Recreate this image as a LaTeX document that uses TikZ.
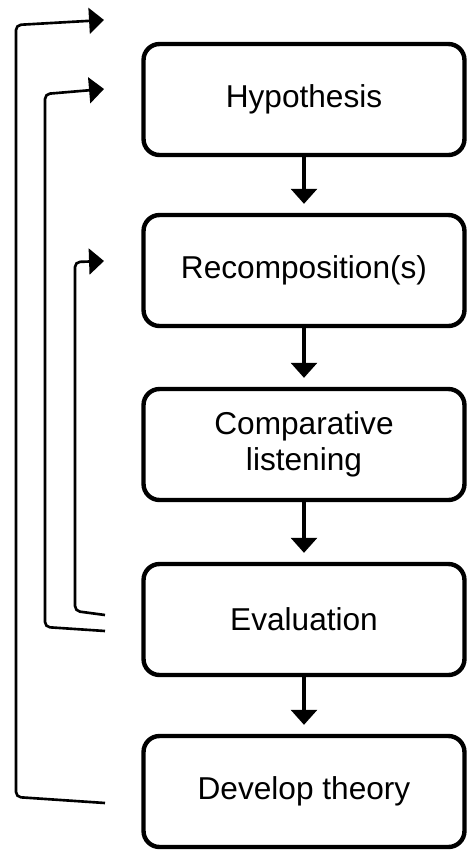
\documentclass[tikz,border=0pt]{standalone}
\usepackage{fontspec}
\setmainfont{Liberation Sans}
\usetikzlibrary{calc,arrows.meta,positioning}
\tikzset{
myStep/.style={
	rectangle,draw=black,line width=2.5pt,rounded corners=0.32cm,
	minimum width=6.42cm,minimum height=2.22cm,
	inner sep=0pt,align=center,text=black,
	font=\fontsize{18}{20.8}\selectfont
}
% link
, myNext/.style={-{Triangle[length=8.5pt,width=14.7pt]},line width=1.8pt,shorten >=0.18cm}
, myLoop/.style={-{Triangle[length=8.5pt,width=14.7pt]},line width=1.5pt,rounded corners=0.1cm}
}

\begin{document}
\begin{tikzpicture}[x=0.02cm,y=-0.02cm]
	\useasboundingbox (0,0) rectangle (468,850);
	% nodes
	\node[myStep] (Hypo)    at (304, 99.5) {Hypothesis};
	\node[myStep] (Recomp)  at (304,270.5) {Recomposition(s)};
	\node[myStep] (Compare) at (304,444.5) {Comparative\\listening};
	\node[myStep] (Eval)    at (304,619.5) {Evaluation};
	\node[myStep] (Develop) at (304,791.5) {Develop theory};
	% free ends of the loops
	\coordinate (DevOut)   at (105,803);
	\coordinate (EvalOutA) at (105,631);
	\coordinate (EvalOutB) at (105,615);
	\coordinate (TopIn)    at (104,20);
	\coordinate (HypoIn)   at (104,89);
	\coordinate (RecompIn) at (104,261);

	% links
	\draw [myNext] (Hypo.south) -- (Recomp.north);
	\draw [myNext] (Recomp.south) -- (Compare.north);
	\draw [myNext] (Compare.south) -- (Eval.north);
	\draw [myNext] (Eval.south) -- (Develop.north);

	% loops back
	\draw [myLoop] (DevOut) -- (16,797) -- (16,25) -- (TopIn);
	\draw [myLoop] (EvalOutA) -- (45,627) -- (45,94) -- (HypoIn);
	\draw [myLoop] (EvalOutB) -- (75,611) -- (75,262) -- (RecompIn);
\end{tikzpicture}
\end{document}
